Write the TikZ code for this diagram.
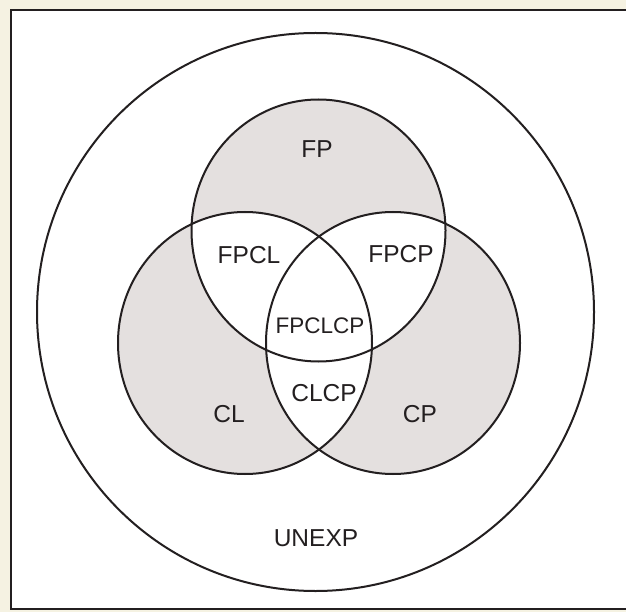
\documentclass[tikz,border=0pt]{standalone}
\usepackage{fontspec}
\setmainfont{Liberation Sans}
\usepackage{xcolor}
\usepackage{tikz}
\definecolor{cream}{HTML}{F5F2E2}
\definecolor{venngrey}{HTML}{E4E0DF}
\definecolor{ink}{HTML}{231F20}

\begin{document}
\begin{tikzpicture}[x=1pt, y=-1pt]
        \useasboundingbox (0, 0) rectangle (626, 612);
        \fill [cream] (0, 0) rectangle (626, 612);
        \draw [ink, line width = 1.6pt, fill = white] (11, 10) rectangle (640, 609);
        \coordinate (all) at (315.5, 312);
        \coordinate (fp) at (318.5, 230.5);
        \coordinate (cl) at (245, 343);
        \coordinate (cp) at (393, 343);
        \fill [venngrey] (fp) ellipse [x radius = 127, y radius = 131];
        \fill [venngrey] (cl) ellipse [x radius = 127, y radius = 131];
        \fill [venngrey] (cp) ellipse [x radius = 127, y radius = 131];
        \begin{scope}
            \clip (fp) ellipse [x radius = 127, y radius = 131];
            \fill [white] (cl) ellipse [x radius = 127, y radius = 131];
            \fill [white] (cp) ellipse [x radius = 127, y radius = 131];
        \end{scope}
        \begin{scope}
            \clip (cl) ellipse [x radius = 127, y radius = 131];
            \fill [white] (cp) ellipse [x radius = 127, y radius = 131];
        \end{scope}
        \draw [ink, line width = 2pt] (all) ellipse [x radius = 278.5, y radius = 279];
        \draw [ink, line width = 2pt] (fp) ellipse [x radius = 127, y radius = 131];
        \draw [ink, line width = 2pt] (cl) ellipse [x radius = 127, y radius = 131];
        \draw [ink, line width = 2pt] (cp) ellipse [x radius = 127, y radius = 131];
        \node (FP) at (317, 149) [text = ink, font = \fontsize{24.5}{28}\selectfont] {FP};
        \node (FPCL) at (249, 255) [text = ink, font = \fontsize{24.5}{28}\selectfont] {FPCL};
        \node (FPCP) at (401, 254) [text = ink, font = \fontsize{24.5}{28}\selectfont] {FPCP};
        \node (FPCLCP) at (320, 326) [text = ink, font = \fontsize{22.5}{26}\selectfont] {FPCLCP};
        \node (CLCP) at (324, 393) [text = ink, font = \fontsize{24.5}{28}\selectfont] {CLCP};
        \node (CL) at (229, 414) [text = ink, font = \fontsize{24.5}{28}\selectfont] {CL};
        \node (CP) at (420, 414) [text = ink, font = \fontsize{24.5}{28}\selectfont] {CP};
        \node (UNEXP) at (316, 538) [text = ink, font = \fontsize{24.5}{28}\selectfont] {UNEXP};
    \end{tikzpicture}
\end{document}
